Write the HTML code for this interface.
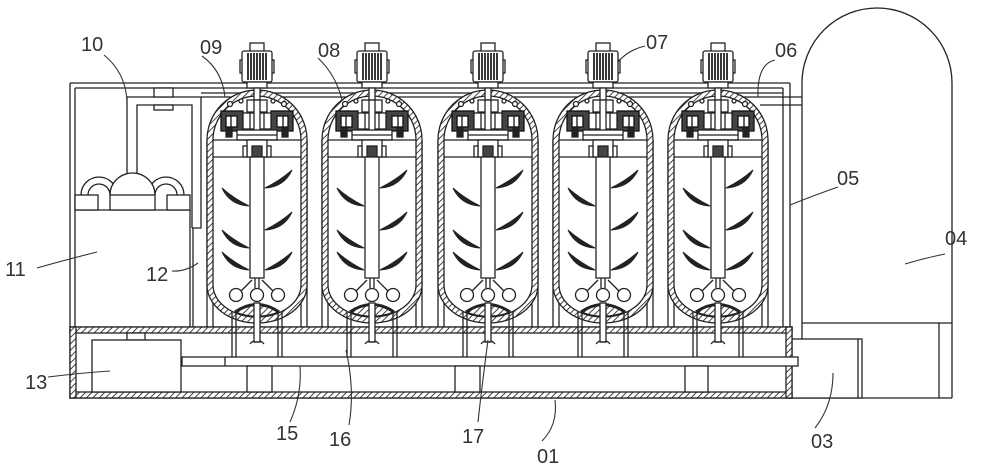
<!DOCTYPE html>
<html>
<head>
<meta charset="utf-8">
<style>
html,body{margin:0;padding:0;background:#fff;}
svg{display:block;}
text{font-family:"Liberation Sans",sans-serif;font-size:20px;fill:#333;}
</style>
</head>
<body>
<svg width="1000" height="471" viewBox="0 0 1000 471" xmlns="http://www.w3.org/2000/svg">
<defs>
  <pattern id="h" width="4.5" height="4.5" patternUnits="userSpaceOnUse" patternTransform="rotate(45)">
    <rect width="4.5" height="4.5" fill="#fff"/>
    <line x1="0" y1="0" x2="0" y2="4.5" stroke="#222" stroke-width="1.7"/>
  </pattern>
  <path id="bl" d="M -35,252 Q -27,269 -8,270 Q -24,262 -35,252 Z" fill="#222" stroke="#222" stroke-width="1"/>
  <g id="tank" stroke="#222" stroke-width="1.3" fill="none">
    <!-- skirt lines -->
    <line x1="-50" y1="140" x2="-50" y2="327"/>
    <line x1="-44" y1="140" x2="-44" y2="327"/>
    <line x1="50" y1="140" x2="50" y2="327"/>
    <line x1="44" y1="140" x2="44" y2="327"/>
    <!-- body -->
    <path d="M -50,140 A 50,50 0 0 1 50,140 L 50,285 A 50,38 0 0 1 -50,285 Z" fill="url(#h)"/>
    <path d="M -44,140 A 44,44 0 0 1 44,140 L 44,285 A 44,32 0 0 1 -44,285 Z" fill="#fff"/>
    <!-- motor -->
    <rect x="-7" y="43" width="14" height="9" fill="#fff"/>
    <rect x="-17" y="60" width="3" height="13" fill="#fff"/>
    <rect x="14" y="60" width="3" height="13" fill="#fff"/>
    <rect x="-15" y="51" width="30" height="31" rx="2" fill="#fff"/>
    <g stroke-width="1.8">
      <line x1="-9" y1="53" x2="-9" y2="80"/>
      <line x1="-6" y1="53" x2="-6" y2="80"/>
      <line x1="-3" y1="53" x2="-3" y2="80"/>
      <line x1="0" y1="53" x2="0" y2="80"/>
      <line x1="3" y1="53" x2="3" y2="80"/>
      <line x1="6" y1="53" x2="6" y2="80"/>
      <line x1="9" y1="53" x2="9" y2="80"/>
    </g>
    <rect x="-10" y="82" width="20" height="6" fill="#fff"/>
    <rect x="-3" y="88" width="6" height="70" fill="#fff"/>
    <!-- mechanism -->
    <circle cx="-27" cy="104" r="2.5" fill="#fff"/>
    <circle cx="27" cy="104" r="2.5" fill="#fff"/>
    <circle cx="-16" cy="101" r="2" fill="#fff"/>
    <circle cx="16" cy="101" r="2" fill="#fff"/>
    <rect x="-10" y="100" width="20" height="12" fill="#fff"/>
    <rect x="-36" y="111" width="22" height="20" fill="#444" stroke="#111"/>
    <rect x="-31" y="116" width="11" height="11" fill="#fff" stroke="#111"/>
    <line x1="-26" y1="116" x2="-26" y2="127" stroke="#111"/>
    <rect x="14" y="111" width="22" height="20" fill="#444" stroke="#111"/>
    <rect x="20" y="116" width="11" height="11" fill="#fff" stroke="#111"/>
    <line x1="26" y1="116" x2="26" y2="127" stroke="#111"/>
    <rect x="-14" y="113" width="28" height="16" fill="#fff"/>
    <line x1="-7" y1="113" x2="-7" y2="129"/>
    <line x1="7" y1="113" x2="7" y2="129"/>
    <rect x="-3" y="100" width="6" height="40" fill="#fff"/>
    <rect x="-31" y="128" width="6" height="9" fill="#222"/>
    <rect x="25" y="128" width="6" height="9" fill="#222"/>
    <rect x="-20" y="130" width="40" height="10" fill="#fff"/>
    <line x1="-20" y1="135" x2="20" y2="135"/>
    <line x1="-44" y1="140" x2="44" y2="140"/>
    <line x1="-44" y1="157" x2="44" y2="157"/>
    <rect x="-10" y="140" width="20" height="17" fill="#fff"/>
    <rect x="-5" y="146" width="10" height="11" fill="#444"/>
    <rect x="-14" y="146" width="4" height="11" fill="#fff"/>
    <rect x="10" y="146" width="4" height="11" fill="#fff"/>
    <!-- shaft tube -->
    <rect x="-7" y="157" width="14" height="121" fill="#fff"/>
    <!-- blades -->
    <use href="#bl"/>
    <use href="#bl" transform="translate(0,-22)"/>
    <use href="#bl" transform="translate(0,-64)"/>
    <use href="#bl" transform="scale(-1,1)"/>
    <use href="#bl" transform="scale(-1,1) translate(0,-40)"/>
    <use href="#bl" transform="scale(-1,1) translate(0,-82)"/>
    <!-- diffusers -->
    <line x1="-2" y1="278" x2="-2" y2="288"/>
    <line x1="2" y1="278" x2="2" y2="288"/>
    <line x1="-5" y1="280" x2="-16" y2="291"/>
    <line x1="5" y1="280" x2="16" y2="291"/>
    <circle cx="-21" cy="295" r="6.5" fill="#fff"/>
    <circle cx="0" cy="295" r="6.5" fill="#fff"/>
    <circle cx="21" cy="295" r="6.5" fill="#fff"/>
    <!-- bowl -->
    <path d="M -22,312 Q 0,297 22,312 A 44,32 0 0 1 -22,312 Z" fill="url(#h)"/>
    <path d="M -22,312 Q 0,297 22,312" stroke-width="3"/>
    <!-- legs -->
    <line x1="-25" y1="312" x2="-25" y2="357"/>
    <line x1="-21" y1="312" x2="-21" y2="357"/>
    <line x1="21" y1="312" x2="21" y2="357"/>
    <line x1="25" y1="312" x2="25" y2="357"/>
    <!-- drain pipe -->
    <rect x="-3" y="303" width="6" height="39" fill="#fff"/>
    <path d="M -7,344 Q -4,340 -2,342 L 2,342 Q 4,340 7,344"/>
  </g>
</defs>

<g stroke="#222" stroke-width="1.3" fill="none">
  <!-- tank 04 -->
  <path d="M 802,339 L 802,83 A 75,75 0 0 1 952,83 L 952,398" fill="#fff"/>
  <line x1="802" y1="323" x2="952" y2="323"/>
  <line x1="939" y1="323" x2="939" y2="398"/>
  <line x1="789" y1="398" x2="952" y2="398"/>
  <!-- box 03 -->
  <rect x="789" y="339" width="73" height="59" fill="#fff"/>
  <line x1="858" y1="339" x2="858" y2="398"/>

  <!-- top frame rails -->
  <line x1="70" y1="83" x2="790" y2="83"/>
  <line x1="75" y1="88" x2="783" y2="88"/>
  <line x1="201" y1="93" x2="783" y2="93"/>
  <line x1="201" y1="97" x2="802" y2="97"/>
  <line x1="760" y1="105" x2="802" y2="105"/>
  <line x1="70" y1="83" x2="70" y2="327"/>
  <line x1="75" y1="88" x2="75" y2="327"/>
  <line x1="783" y1="88" x2="783" y2="327"/>
  <line x1="790" y1="83" x2="790" y2="327"/>

  <!-- left cabinet 11 -->
  <line x1="75" y1="210" x2="190" y2="210"/>
  <line x1="190" y1="210" x2="190" y2="327"/>
  <line x1="193" y1="228" x2="193" y2="327"/>
  <!-- pipe 10 -->
  <path d="M 127,175 L 127,97 L 201,97 L 201,228 L 192,228"/>
  <path d="M 137,175 L 137,105 L 192,105 L 192,228"/>
  <rect x="154" y="88" width="19" height="9" fill="#fff"/>
  <rect x="154" y="105" width="19" height="5" fill="#fff"/>
  <!-- U pipes -->
  <path d="M 81,195 A 18,18 0 0 1 117,195"/>
  <path d="M 88,195 A 11,11 0 0 1 110,195"/>
  <path d="M 148,195 A 18,18 0 0 1 184,195"/>
  <path d="M 155,195 A 11,11 0 0 1 177,195"/>
  <path d="M 110,195 A 22.5,22 0 0 1 155,195" fill="#fff"/>
  <rect x="75" y="195" width="23" height="15" fill="#fff"/>
  <rect x="110" y="195" width="45" height="15" fill="#fff"/>
  <rect x="167" y="195" width="23" height="15" fill="#fff"/>

  <!-- base 01 -->
  <rect x="70" y="327" width="722" height="71" fill="#fff"/>
  <rect x="70" y="327" width="722" height="6" fill="url(#h)"/>
  <rect x="70" y="392" width="722" height="6" fill="url(#h)"/>
  <rect x="70" y="327" width="6" height="71" fill="url(#h)"/>
  <rect x="786" y="327" width="6" height="71" fill="url(#h)"/>
  <rect x="127" y="333" width="18" height="7" fill="#fff"/>
  <!-- box 13 -->
  <rect x="92" y="340" width="89" height="52" fill="#fff"/>
  <!-- bar 15 -->
  <rect x="182" y="357" width="616" height="9" fill="#fff"/>
  <line x1="225" y1="357" x2="225" y2="366"/>
  <rect x="247" y="366" width="25" height="26" fill="#fff"/>
  <rect x="455" y="366" width="25" height="26" fill="#fff"/>
  <rect x="685" y="366" width="23" height="26" fill="#fff"/>
</g>

<!-- tanks -->
<use href="#tank" transform="translate(257,0)"/>
<use href="#tank" transform="translate(372,0)"/>
<use href="#tank" transform="translate(488,0)"/>
<use href="#tank" transform="translate(603,0)"/>
<use href="#tank" transform="translate(718,0)"/>

<!-- leader lines -->
<g stroke="#333" stroke-width="1.1" fill="none">
  <path d="M 104,55 Q 125,72 127,100"/>
  <path d="M 202,56 Q 222,70 225,97"/>
  <path d="M 318,58 Q 336,75 342,100"/>
  <path d="M 645,46 Q 628,50 618,62"/>
  <path d="M 775,60 Q 757,64 758,97"/>
  <path d="M 838,187 Q 815,195 790,205"/>
  <path d="M 945,254 Q 925,258 905,264"/>
  <path d="M 37,268 Q 65,260 97,252"/>
  <path d="M 172,271 Q 185,272 198,263"/>
  <path d="M 48,377 Q 80,373 110,371"/>
  <path d="M 290,422 Q 302,395 300,366"/>
  <path d="M 349,425 Q 355,390 346,350"/>
  <path d="M 478,422 Q 482,385 488,340"/>
  <path d="M 542,441 Q 558,425 555,400"/>
  <path d="M 815,428 Q 833,405 833,373"/>
</g>

<!-- labels -->
<text x="81" y="51">10</text>
<text x="200" y="54">09</text>
<text x="318" y="57">08</text>
<text x="646" y="49">07</text>
<text x="775" y="57">06</text>
<text x="837" y="185">05</text>
<text x="945" y="245">04</text>
<text x="5" y="276">11</text>
<text x="146" y="281">12</text>
<text x="25" y="389">13</text>
<text x="276" y="440">15</text>
<text x="329" y="446">16</text>
<text x="462" y="443">17</text>
<text x="537" y="463">01</text>
<text x="811" y="448">03</text>
</svg>
</body>
</html>
